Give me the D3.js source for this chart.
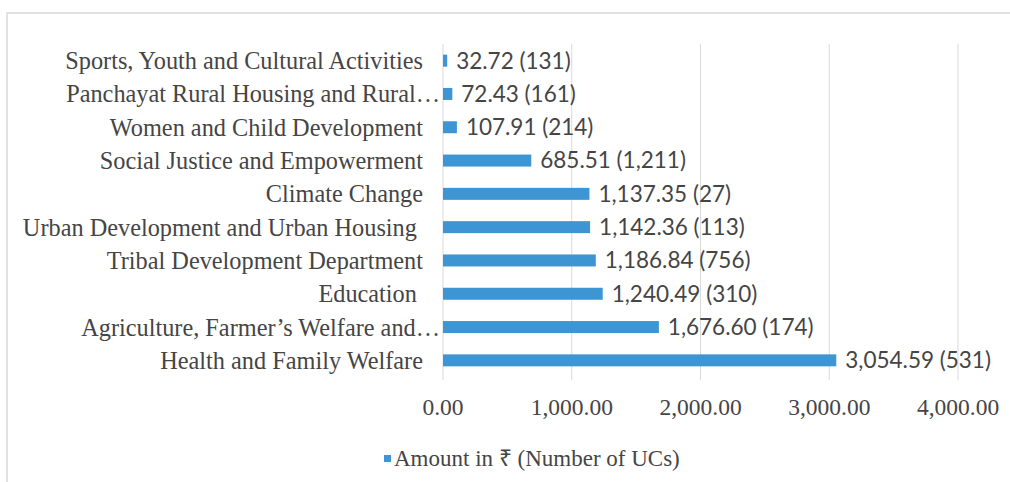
<!DOCTYPE html>
<html>
<head>
<meta charset="utf-8">
<script src="https://cdn.jsdelivr.net/npm/d3@7"></script>
<style>
  body { margin: 0; background: #fff; }
  svg text { white-space: pre; }
</style>
</head>
<body>
<svg id="chart" width="1010" height="482"></svg>
<script>
// donnees du graphique
const departements = [
  "Sports, Youth and Cultural Activities",
  "Panchayat Rural Housing and Rural\u2026",
  "Women and Child Development",
  "Social Justice and Empowerment",
  "Climate Change",
  "Urban Development and Urban Housing ",
  "Tribal Development Department",
  "Education ",
  "Agriculture, Farmer\u2019s Welfare and\u2026",
  "Health and Family Welfare"
];
const montants = [32.72, 72.43, 107.91, 685.51, 1137.35, 1142.36, 1186.84, 1240.49, 1676.60, 3054.59];
const nbUCs = [131, 161, 214, 1211, 27, 113, 756, 310, 174, 531];
const graduations = [0, 1000, 2000, 3000, 4000];
const legende = "Amount in \u20b9 (Number of UCs)";

const svg = d3.select("#chart");
const bleu = "#3d95d4";
const gris = "#454545";
const serif = "'Liberation Serif', 'Times New Roman', serif";

// cadre du graphique
svg.append("rect").attr("x", 7).attr("y", 13).attr("width", 1010).attr("height", 480)
  .attr("fill", "none").attr("stroke", "#d9d9d9").attr("stroke-width", 1.5);

const x = d3.scaleLinear().domain([0, 4000]).range([443, 958]);
const y = d3.scaleBand().domain(departements).range([44, 377])
  .paddingInner(0.64).paddingOuter(0.32);

// lignes de grille
svg.append("g").selectAll("line").data(graduations).join("line")
  .attr("x1", d => x(d)).attr("x2", d => x(d))
  .attr("y1", 44).attr("y2", 380)
  .attr("stroke", "#d9d9d9").attr("stroke-width", 1);

// barres
svg.append("g").selectAll("rect").data(departements).join("rect")
  .attr("x", x(0))
  .attr("y", d => y(d))
  .attr("width", (d, i) => x(montants[i]) - x(0))
  .attr("height", y.bandwidth())
  .attr("fill", bleu);

// noms des departements (les noms tronques debordent un peu sur les barres)
svg.append("g").selectAll("text").data(departements).join("text")
  .attr("x", d => d.endsWith("\u2026") ? 440 : 423)
  .attr("y", d => y(d) + y.bandwidth() / 2)
  .attr("dy", "0.35em")
  .attr("text-anchor", "end")
  .attr("font-family", serif).attr("font-size", 24.3)
  .attr("fill", gris)
  .text(d => d);

// etiquettes de valeur
const fmt = d3.format(",.2f");
const fmtN = d3.format(",");
svg.append("g").selectAll("text").data(departements).join("text")
  .attr("x", (d, i) => x(montants[i]) + 9)
  .attr("y", d => y(d) + y.bandwidth() / 2)
  .attr("dy", "0.35em")
  .attr("font-family", "Lato, 'Open Sans', sans-serif").attr("font-size", 22.5)
  .attr("fill", gris)
  .text((d, i) => fmt(montants[i]) + " (" + fmtN(nbUCs[i]) + ")");

// axe des abscisses (etiquettes seulement)
svg.append("g").selectAll("text").data(graduations).join("text")
  .attr("x", d => x(d))
  .attr("y", 407)
  .attr("dy", "0.35em")
  .attr("text-anchor", "middle")
  .attr("font-family", serif).attr("font-size", 23.5)
  .attr("fill", gris)
  .text(d => fmt(d));

// legende
svg.append("rect").attr("x", 384).attr("y", 455).attr("width", 7).attr("height", 7).attr("fill", bleu);
svg.append("text").attr("x", 394).attr("y", 458).attr("dy", "0.35em")
  .attr("font-family", serif).attr("font-size", 23)
  .attr("fill", gris)
  .text(legende);
</script>
</body>
</html>
